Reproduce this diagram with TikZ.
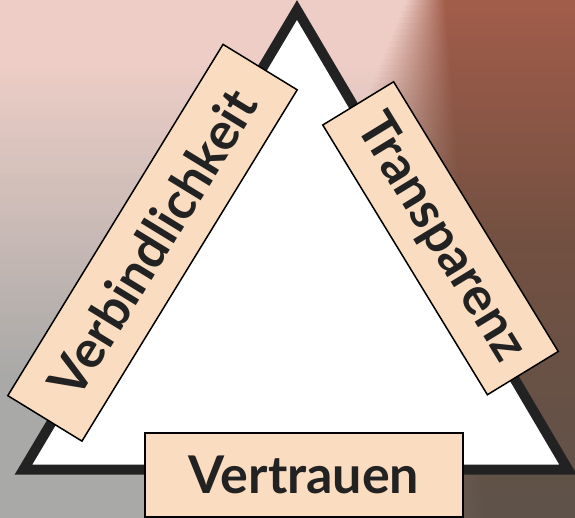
\documentclass[tikz,border=0pt]{standalone}
\usepackage{fontspec}
\setmainfont{Lato}
\usetikzlibrary{shadings}
\definecolor{peach}{HTML}{FADCC0}
\definecolor{triline}{HTML}{222222}
\definecolor{txt}{HTML}{222222}
\definecolor{pinkL}{HTML}{EDCDC6}
\definecolor{greyL}{HTML}{A9A9A7}
\definecolor{brownT}{HTML}{A25C4A}
\definecolor{brownM}{HTML}{735041}
\definecolor{brownB}{HTML}{5E5249}
\begin{document}
\begin{tikzpicture}[x=1pt,y=-1pt,
  lbl/.style={draw=black, line width=1.5pt, fill=peach, rectangle, inner sep=0pt,
    text=txt, font=\fontsize{52}{57}\selectfont\bfseries}]
\useasboundingbox (0,0) rectangle (575,518);
% background
\foreach \y in {0,6,...,516} {
  \pgfmathsetmacro\t{\y/518}
  \pgfmathsetmacro\wl{max(0,min(100,(\t-0.12)/0.6*100))}
  \pgfmathsetmacro\wa{min(100,\t/0.45*100)}
  \pgfmathsetmacro\wb{max(0,(\t-0.45)/0.55*100)}
  \pgfmathsetmacro\xa{405-215*\t}
  \pgfmathsetmacro\xb{445+40*\t}
  \colorlet{Lc}{greyL!\wl!pinkL}
  \colorlet{Rc}{brownM!\wa!brownT}
  \colorlet{Rc}{brownB!\wb!Rc}
  \fill[Lc] (0,\y) rectangle (\xa,\y+6.6);
  \shade[left color=Lc, right color=Rc] (\xa,\y) rectangle (\xb,\y+6.6);
  \fill[Rc] (\xb,\y) rectangle (575,\y+6.6);
}
\coordinate (A) at (297,10);
\coordinate (B) at (23.5,469.5);
\coordinate (C) at (568,469.5);
\filldraw[fill=white, draw=triline, line width=10pt, line join=miter] (A) -- (B) -- (C) -- cycle;
\node[lbl, minimum width=412pt, minimum height=87pt, rotate=58.5] (verb) at (152.5,242.75) {Verbindlichkeit};
\node[lbl, minimum width=316pt, minimum height=83pt, rotate=-58.6] (trans) at (440.5,238.25) {Transparenz};
\node[lbl, minimum width=318pt, minimum height=84pt] (vert) at (304,475) {Vertrauen};
\end{tikzpicture}
\end{document}
